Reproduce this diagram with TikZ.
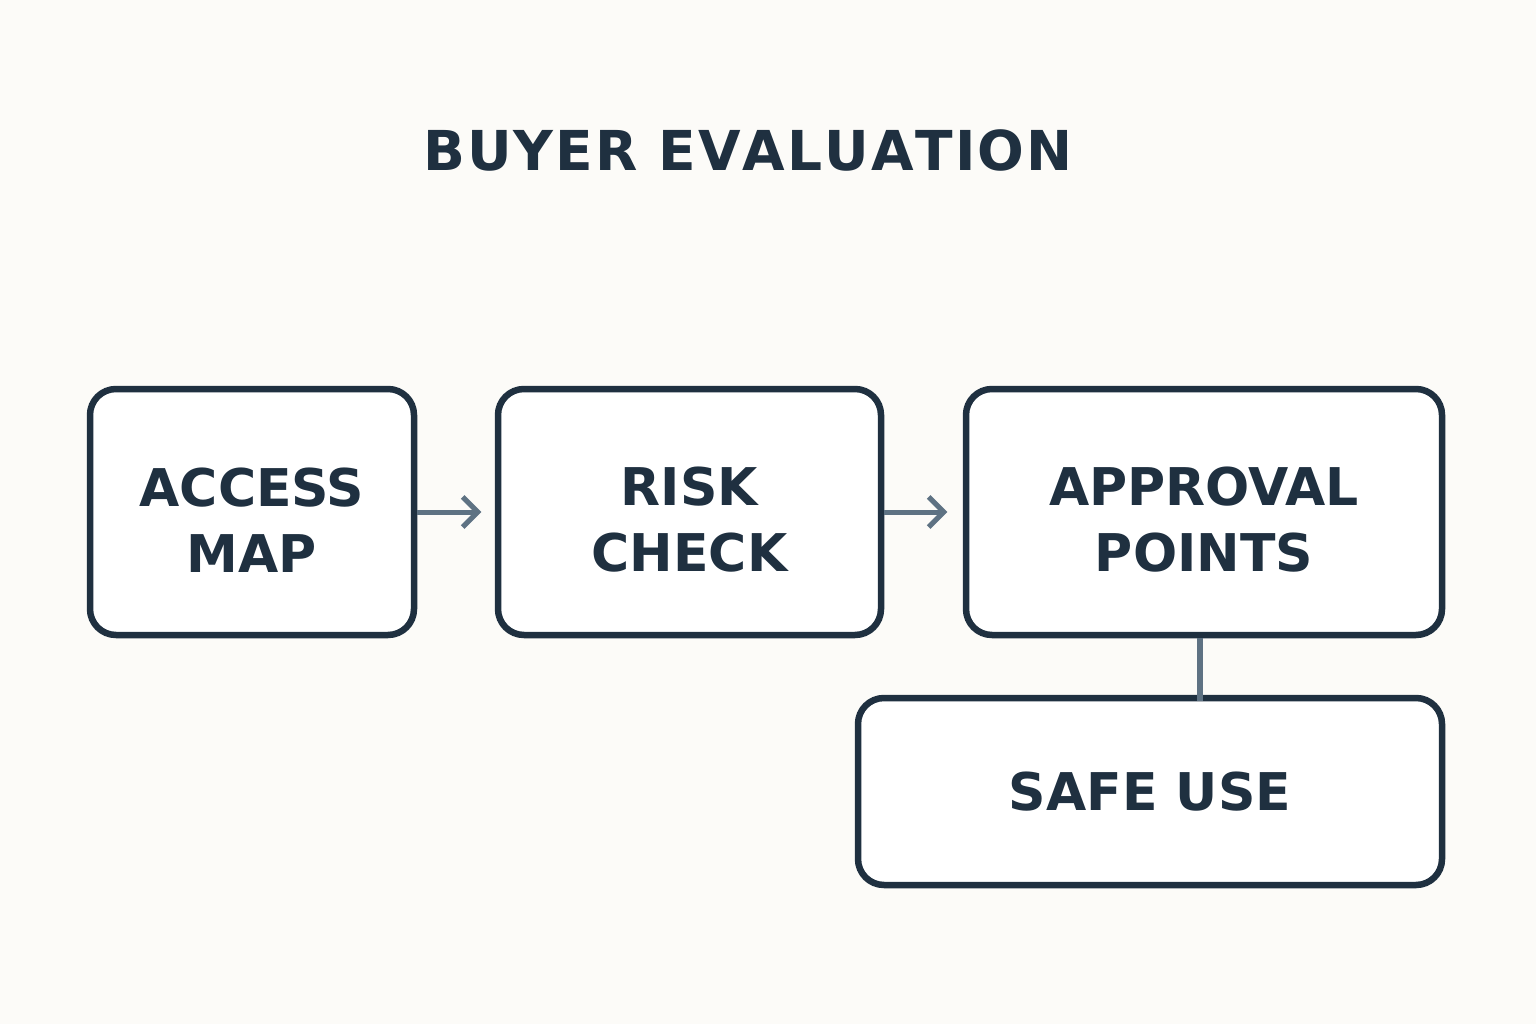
\documentclass[tikz,border=0pt]{standalone}
\usepackage{fontspec}
\setmainfont{DejaVu Sans}
\usetikzlibrary{arrows.meta}
\definecolor{ink}{HTML}{1F3040}
\definecolor{arr}{HTML}{5E7283}
\definecolor{bg}{HTML}{FCFBF8}
\begin{document}
\begin{tikzpicture}[x=1pt,y=-1pt,
  box/.style={draw=ink,line width=6.5pt,rounded corners=26pt,fill=white,align=center,
    font=\fontsize{52}{66}\selectfont\bfseries,text=ink},
  conn/.style={draw=arr,line width=5pt,-{Straight Barb[length=15pt,width=30pt,line width=5pt]}}]
\fill[bg] (0,0) rectangle (1536,1024);
\useasboundingbox (0,0) rectangle (1536,1024);
\node[font=\fontsize{55}{64}\selectfont\bfseries,text=ink] (title) at (748,150) {B\kern2pt U\kern2pt Y\kern2pt E\kern2pt R\kern2pt\ E\kern2pt V\kern2pt A\kern2pt L\kern2pt U\kern2pt A\kern2pt T\kern2pt I\kern2pt O\kern2pt N};
\node[box,minimum width=324pt,minimum height=246pt] (a) at (252,512) {};
\node[box,minimum width=383pt,minimum height=246pt] (b) at (689.5,512) {};
\node[box,minimum width=476pt,minimum height=246pt] (c) at (1204,512) {};
\node[box,minimum width=584pt,minimum height=187pt] (d) at (1150,791.5) {SAFE USE};
\node[box,draw=none,fill=none] (at) at (252,520) {ACCESS\\MAP};
\node[box,draw=none,fill=none] (bt) at (689.5,520) {RISK\\CHECK};
\node[box,draw=none,fill=none] (ct) at (1204,520) {APPROVAL\\POINTS};
\draw[conn] (a.east) -- ++(64,0) coordinate (ae);
\draw[conn] (b.east) -- ++(63,0) coordinate (be);
\draw[arr,line width=6pt] (c.south) ++(-4,0) -- ++(0,63) coordinate (ce);
\end{tikzpicture}
\end{document}
